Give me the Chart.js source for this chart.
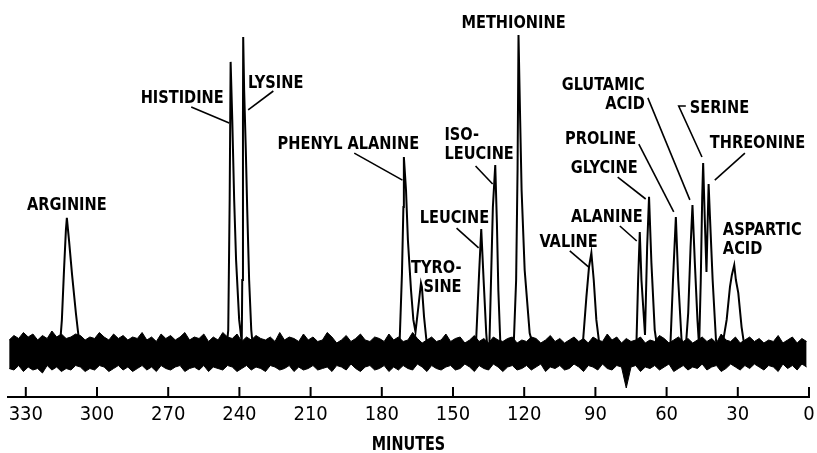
<!DOCTYPE html>
<html>
<head>
<meta charset="utf-8">
<script src="https://cdn.jsdelivr.net/npm/chart.js@4.4.1/dist/chart.umd.min.js"></script>
<style>
  html, body { margin: 0; padding: 0; background: #fff; }
  #wrap { width: 817px; height: 453px; }
</style>
</head>
<body>
<div id="wrap"><canvas id="chromatogram"></canvas></div>
<script>
const LETTERING = '"DejaVu Sans Condensed", "DejaVu Sans", sans-serif';

// axis ticks, minutes (axis runs right to left)
const tickValues = [330, 300, 270, 240, 210, 180, 150, 120, 90, 60, 30, 0];
const axisTitle = 'MINUTES';

// baseline noise band, sampled every 2 minutes from minute 1
const noiseStart = 1;
const noiseStep = 2;
const noiseHigh = [
  3.5, 4.5, 3, 5, 4, 3, 5.5, 3.5, 4, 3, 4.5, 3.5, 5,
  4, 3, 5, 3.5, 4, 6, 3, 4.5, 3.5, 5, 4, 3, 4.5,
  3.5, 5, 4, 3, 4.5, 5.5, 3.5, 4, 3, 5, 4, 3.5, 4.5,
  3, 5, 4, 6, 3.5, 4, 5, 3, 4.5, 3.5, 5, 4, 3,
  4.5, 3.5, 5.5, 4, 3, 4.5, 5, 3.5, 4, 3, 5, 4.5, 3.5,
  4, 5, 3, 4.5, 3.5, 5.5, 4, 3, 5, 4.5, 3.5, 6, 4,
  3.5, 5, 4, 3, 4.5, 6.5, 4, 3.5, 5, 4, 6, 3.5, 4.5,
  5, 3.5, 4, 6, 4.5, 3.5, 5.5, 4, 3, 5, 6.5, 4, 3.5,
  5, 4, 6, 3.5, 4.5, 5, 4, 6.5, 3.5, 5, 4, 4.5, 5.5,
  4, 5, 3.5, 6, 4.5, 5, 6.5, 4, 5, 3.5, 6, 4.5, 5,
  4, 6.5, 5, 4, 5.5, 4.5, 6, 3.5, 5, 4, 6.5, 4.5, 5,
  4, 5.5, 4.5, 6, 4, 5, 6.5, 4.5, 5, 4, 5.5, 6, 5,
  4.5, 6, 5, 7, 4.5, 5.5, 4, 6, 5, 6.5, 4.5, 5.5, 4
];
const noiseLow = [
  -5, -4, -6, -4.5, -5.5, -4, -6.5, -5, -4.5, -6, -5, -4, -5.5,
  -4.5, -6, -5, -4, -5.5, -6.5, -4.5, -5, -6, -4, -5.5, -5, -6,
  -4.5, -5.5, -6.5, -4, -5, -6, -4.5, -5.5, -5, -6.5, -4.5, -5, -12,
  -5, -4.5, -6, -5.5, -4, -6, -5, -4.5, -6.5, -5, -4, -5.5, -6,
  -4.5, -5.5, -5, -6.5, -4, -5, -6, -4.5, -5.5, -6, -4.5, -5, -6.5,
  -5, -4, -6, -5.5, -4.5, -6.5, -5, -4, -5.5, -6, -4.5, -5, -6,
  -5.5, -4.5, -6.5, -5, -4, -6, -5.5, -4.5, -6, -5, -6.5, -4.5, -5.5,
  -6, -4.5, -5, -6.5, -5.5, -4, -6, -5, -4.5, -6.5, -5, -5.5, -6,
  -4.5, -5.5, -6, -5, -6.5, -4.5, -5.5, -6, -5, -4.5, -6.5, -5.5, -5,
  -6, -4.5, -5.5, -6.5, -5, -4.5, -6, -5.5, -5, -6.5, -4.5, -6, -5,
  -5.5, -6.5, -4.5, -5, -6, -5.5, -4.5, -6.5, -5, -6, -4.5, -5.5, -6.5,
  -5, -6, -4.5, -5.5, -6.5, -5, -4.5, -6, -5.5, -6.5, -5, -4.5, -6,
  -5.5, -6.5, -5, -6, -4.5, -7, -5.5, -6, -5, -6.5, -4.5, -6, -5.5
];

// detector trace through the peaks (minutes, response)
const traceTimes = [
  315.6, 314.8, 313.9, 313.1, 312.7, 311.8, 310.5, 308.9, 307.6, 306.8,
  245.6, 244.7, 244.1, 243.7, 243.0, 242.2, 241.4, 240.1, 239.0, 238.8, 238.5, 238.4, 238.0, 237.3, 236.7, 235.9, 235.0, 234.2,
  172.6, 171.5, 170.9, 170.7, 169.8, 169.0, 167.7, 166.7, 165.8, 164.6, 163.5, 163.1, 162.2, 161.2, 159.9,
  140.3, 139.0, 138.1, 137.1, 136.0, 134.9, 133.9, 133.2, 132.2, 131.5, 130.9, 130.1, 129.0,
  124.5, 123.4, 122.8, 122.4, 121.7, 121.1, 119.8, 117.7, 115.6,
  95.4, 93.8, 92.7, 91.7, 90.7, 89.6, 88.2,
  72.7, 72.0, 71.3, 70.6, 69.1, 68.2, 67.4, 66.4, 65.0, 63.6,
  58.6, 57.3, 56.1, 55.1, 53.7, 52.3, 50.9, 49.9, 49.1, 48.1, 47.0, 46.3,
  45.6, 45.0, 44.6, 43.9, 43.2, 42.3, 41.8, 40.6, 39.2, 38.3,
  36.8, 34.7, 33.3, 32.5, 31.5, 30.8, 29.8, 28.4, 27.0
];
const traceLevels = [
  2.3, 10.7, 27.3, 40.7, 44.7, 37.3, 25.7, 13, 4, 1.3,
  0, 7.3, 50.7, 96.7, 77.3, 50.7, 30.7, 10.7, 3.3, 24, 77.3, 105, 87.3, 67.3, 47.3, 24, 7.3, 0.7,
  0.7, 26.3, 48.3, 65, 54, 37.3, 20.7, 10.7, 6.7, 15, 23, 21.7, 11.7, 4, -0.3,
  3, 26.3, 41, 24, 6.3, -4.7, 26.3, 48.3, 62.3, 43, 20.7, 4, -0.3,
  0.7, 24, 60.7, 105.7, 77.3, 54, 27.3, 6.3, 0,
  1.7, 18.3, 28.3, 33, 24, 10.7, 1.7,
  3, 24, 40, 24, 5.7, 35, 51.7, 29.7, 7.3, -0.3,
  -1.7, 24, 45, 24, 4, -2.7, 13, 35, 49, 29.7, 10.7, 1.7,
  24, 51.7, 63, 44, 26.7, 56, 46.3, 24, 4, -0.3,
  0.7, 10.7, 21.7, 25.7, 29, 24, 19.7, 8.3, 0.7
];

// peak names and where they are lettered on the chart
const peakLabels = [
  { lines: ['ARGININE'], at: [312.7, 47.3], align: 'center' },
  { lines: ['HISTIDINE'], at: [264.1, 83], align: 'center', leader: [[260.3, 81.7], [244.3, 76.3]] },
  { lines: ['LYSINE'], at: [224.7, 88], align: 'center', leader: [[225.7, 87], [236.3, 80.7]] },
  { lines: ['PHENYL ALANINE'], at: [194.1, 67.7], align: 'center', leader: [[191.6, 66.3], [171.3, 57.3]] },
  { lines: ['TYRO-', 'SINE'], at: [146.4, 26.3], align: 'right' },
  { lines: ['LEUCINE'], at: [149.4, 43], align: 'center', leader: [[148.5, 41.3], [139.2, 34.7]] },
  { lines: ['ISO-', 'LEUCINE'], at: [153.6, 70.7], align: 'left', leader: [[140.5, 62], [133.3, 56]] },
  { lines: ['METHIONINE'], at: [124.5, 108], align: 'center' },
  { lines: ['VALINE'], at: [101.3, 35], align: 'center', leader: [[100.8, 33.7], [92.8, 28.3]] },
  { lines: ['ALANINE'], at: [85.2, 43.3], align: 'center', leader: [[79.7, 42], [72.6, 37]] },
  { lines: ['GLYCINE'], at: [86.3, 59.7], align: 'center', leader: [[80.6, 58.3], [68.8, 51]] },
  { lines: ['PROLINE'], at: [87.8, 69.3], align: 'center', leader: [[71.7, 69.3], [57, 46.7]] },
  { lines: ['GLUTAMIC', 'ACID'], at: [69.2, 87.3], align: 'right', leader: [[67.9, 84.7], [50.2, 50.7]] },
  { lines: ['SERINE'], at: [50.2, 79.7], align: 'left', leader: [[51.9, 82], [54.9, 82], [45.1, 65]] },
  { lines: ['THREONINE'], at: [41.8, 68], align: 'left', leader: [[27, 66.3], [39.7, 57.3]] },
  { lines: ['ASPARTIC', 'ACID'], at: [36.3, 39], align: 'left' }
];

const noiseTimes = noiseHigh.map((_, i) => noiseStart + i * noiseStep);
const toPoints = (xs, ys) => xs.map((t, i) => ({ x: t, y: ys[i] }));

// squeezed lettering, like the stencil text of the original plot
function narrowText(ctx, text, x, y, squeeze) {
  ctx.save();
  ctx.translate(x, y);
  ctx.scale(squeeze, 1);
  ctx.fillText(text, 0, 0);
  ctx.restore();
}

const peakLabelPlugin = {
  id: 'peakLabels',
  afterDatasetsDraw(chart) {
    const { ctx, scales: { x, y } } = chart;
    ctx.save();
    ctx.fillStyle = '#000';
    ctx.strokeStyle = '#000';
    ctx.lineWidth = 1.6;
    ctx.font = 'bold 18px ' + LETTERING;
    ctx.textBaseline = 'alphabetic';
    peakLabels.forEach(lab => {
      const px = x.getPixelForValue(lab.at[0]);
      const py = y.getPixelForValue(lab.at[1]);
      ctx.textAlign = lab.align;
      lab.lines.forEach((line, i) => narrowText(ctx, line, px, py + i * 19, 0.9));
      if (lab.leader) {
        ctx.beginPath();
        lab.leader.forEach(([t, v], i) => {
          const lx = x.getPixelForValue(t);
          const ly = y.getPixelForValue(v);
          if (i === 0) ctx.moveTo(lx, ly); else ctx.lineTo(lx, ly);
        });
        ctx.stroke();
      }
    });
    ctx.restore();
  }
};

// tick marks stand up from the axis line; axis title below the numbers
const axisPlugin = {
  id: 'axisExtras',
  afterDraw(chart) {
    const { ctx, chartArea, scales: { x } } = chart;
    ctx.save();
    ctx.strokeStyle = '#000';
    ctx.lineWidth = 2;
    tickValues.forEach(v => {
      const px = x.getPixelForValue(v);
      ctx.beginPath();
      ctx.moveTo(px, chartArea.bottom);
      ctx.lineTo(px, chartArea.bottom - 10);
      ctx.stroke();
    });
    ctx.fillStyle = '#000';
    ctx.font = 'bold 20px ' + LETTERING;
    ctx.textAlign = 'center';
    ctx.textBaseline = 'alphabetic';
    narrowText(ctx, axisTitle, (chartArea.left + chartArea.right) / 2, x.bottom - 3, 0.8);
    ctx.restore();
  }
};

new Chart(document.getElementById('chromatogram'), {
  type: 'line',
  data: {
    datasets: [
      {
        data: toPoints(noiseTimes, noiseHigh),
        borderColor: '#000', borderWidth: 1, pointRadius: 0, fill: false
      },
      {
        data: toPoints(noiseTimes, noiseLow),
        borderColor: '#000', borderWidth: 1, pointRadius: 0,
        fill: '-1', backgroundColor: '#000'
      },
      {
        data: toPoints(traceTimes, traceLevels),
        borderColor: '#000', borderWidth: 2, pointRadius: 0, fill: false
      }
    ]
  },
  options: {
    responsive: true,
    maintainAspectRatio: false,
    animation: false,
    layout: { padding: { left: 8, right: 8, top: 22, bottom: 0 } },
    plugins: {
      legend: { display: false },
      tooltip: { enabled: false }
    },
    scales: {
      x: {
        type: 'linear',
        reverse: true,
        min: 0,
        max: 337.5,
        afterBuildTicks: scale => {
          scale.ticks = tickValues.map(v => ({ value: v }));
        },
        afterFit: scale => {
          scale.height = 56;
          scale.paddingLeft = 0;
          scale.paddingRight = 0;
        },
        grid: { display: false, drawTicks: false },
        border: { display: true, color: '#000', width: 2 },
        ticks: {
          color: '#000',
          font: { family: LETTERING, size: 20 },
          padding: 6,
          maxRotation: 0,
          autoSkip: false
        }
      },
      y: {
        display: false,
        min: -15,
        max: 110
      }
    }
  },
  plugins: [peakLabelPlugin, axisPlugin]
});
</script>
</body>
</html>
